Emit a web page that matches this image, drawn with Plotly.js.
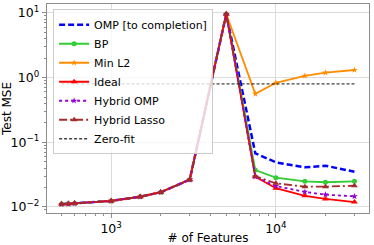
<!DOCTYPE html>
<html>
<head>
<meta charset="utf-8">
<script src="https://cdn.plot.ly/plotly-3.0.1.min.js"></script>
<style>html,body{margin:0;padding:0;background:#fff}#chart{width:374px;height:245px}</style>
</head>
<body>
<div id="chart"></div>
<script>
const features = [500, 550, 600, 1000, 1500, 2000, 3000, 5000, 7500, 10000, 15000, 20000, 30000];
const ompComplete = [0.0111, 0.0112, 0.0114, 0.0124, 0.0144, 0.0169, 0.0264, 9.6, 0.0676, 0.049, 0.041, 0.0435, 0.035];
const bp = [0.0111, 0.0112, 0.0114, 0.0124, 0.0144, 0.0169, 0.0264, 9.6, 0.0373, 0.0284, 0.0249, 0.0241, 0.0249];
const minL2 = [0.0111, 0.0112, 0.0114, 0.0124, 0.0144, 0.0169, 0.0264, 9.6, 0.56, 0.83, 1.06, 1.19, 1.31];
const ideal = [0.0111, 0.0112, 0.0114, 0.0124, 0.0144, 0.0169, 0.0264, 9.6, 0.0294, 0.0195, 0.0149, 0.0133, 0.0119];
const hybridOmp = [0.0111, 0.0112, 0.0114, 0.0124, 0.0144, 0.0169, 0.0264, 9.6, 0.0294, 0.0211, 0.0171, 0.0155, 0.0146];
const hybridLasso = [0.0111, 0.0112, 0.0114, 0.0124, 0.0144, 0.0169, 0.0264, 9.6, 0.030, 0.0232, 0.0206, 0.0206, 0.0213];
const zeroFit = [0.8, 0.8, 0.8, 0.8, 0.8, 0.8, 0.8, 0.8, 0.8, 0.8, 0.8, 0.8, 0.8];
const names = ['OMP [to completion]', 'BP', 'Min L2', 'Ideal', 'Hybrid OMP', 'Hybrid Lasso', 'Zero-fit'];
const xTickVals = [1000, 10000];
const xTickText = ['10<sup>3</sup>', '10<sup>4</sup>'];
const yTickVals = [0.01, 0.1, 1, 10];
const yTickText = ['10<sup>−2</sup>', '10<sup>−1</sup>', '10<sup>0</sup>', '10<sup>1</sup>'];

const traces = [
  {x: features, y: ompComplete, name: names[0], mode: 'lines',
   line: {color: '#0000ff', width: 2.5, dash: '6px,3px'}},
  {x: features, y: bp, name: names[1], mode: 'lines+markers',
   line: {color: '#32cd32', width: 1.8}, marker: {symbol: 'circle', size: 5, color: '#32cd32'}},
  {x: features, y: minL2, name: names[2], mode: 'lines+markers',
   line: {color: '#ff8c00', width: 1.8}, marker: {symbol: 'star', size: 5, color: '#ff8c00'}},
  {x: features, y: ideal, name: names[3], mode: 'lines+markers',
   line: {color: '#ff0000', width: 1.8}, marker: {symbol: 'triangle-up', size: 6, color: '#ff0000'}},
  {x: features, y: hybridOmp, name: names[4], mode: 'lines+markers',
   line: {color: '#9400d3', width: 1.8, dash: 'dot'}, marker: {symbol: 'star', size: 5, color: '#9400d3'}},
  {x: features, y: hybridLasso, name: names[5], mode: 'lines+markers',
   line: {color: '#a52a2a', width: 1.8, dash: '8px,3px,2px,3px'}, marker: {symbol: 'triangle-up', size: 6, color: '#a52a2a'}},
  {x: features, y: zeroFit, name: names[6], mode: 'lines',
   line: {color: 'rgba(0,0,0,0.75)', width: 1.4, dash: '3px,2px'}}
];

const layout = {
  width: 374, height: 245,
  margin: {l: 47, r: 5, t: 4, b: 32},
  paper_bgcolor: '#fff', plot_bgcolor: '#fff',
  font: {family: 'DejaVu Sans', size: 12, color: '#000'},
  showlegend: true,
  legend: {x: 0.019, y: 0.975, xanchor: 'left', yanchor: 'top',
    bgcolor: 'rgba(255,255,255,0.8)', bordercolor: '#cccccc', borderwidth: 1,
    itemwidth: 30,
    font: {family: 'DejaVu Sans', size: 11, color: '#000'}, tracegroupgap: 0},
  xaxis: {type: 'log', range: [2.6106, 4.5654], tickmode: 'array', tickvals: xTickVals, ticktext: xTickText,
    showgrid: true, gridcolor: '#dcdcdc', gridwidth: 1, zeroline: false,
    showline: true, mirror: true, linecolor: '#8c8c8c', linewidth: 1.2,
    ticks: 'outside', ticklen: 4, tickcolor: '#8c8c8c', tickfont: {size: 12.5},
    minor: {ticks: 'outside', ticklen: 2, tickcolor: '#8c8c8c', tickmode: 'linear', dtick: 'D1', showgrid: false},
    title: {text: '# of Features', font: {size: 12}, standoff: 3}},
  yaxis: {type: 'log', range: [-2.093, 1.137], tickmode: 'array', tickvals: yTickVals, ticktext: yTickText,
    showgrid: true, gridcolor: '#dcdcdc', gridwidth: 1, zeroline: false,
    showline: true, mirror: true, linecolor: '#8c8c8c', linewidth: 1.2,
    ticks: 'outside', ticklen: 4, tickcolor: '#8c8c8c', tickfont: {size: 12.5},
    minor: {ticks: 'outside', ticklen: 2, tickcolor: '#8c8c8c', tickmode: 'linear', dtick: 'D1', showgrid: false},
    title: {text: 'Test MSE', font: {size: 12}, standoff: 2}}
};

Plotly.newPlot('chart', traces, layout, {displayModeBar: false, staticPlot: true});
</script>
</body>
</html>
